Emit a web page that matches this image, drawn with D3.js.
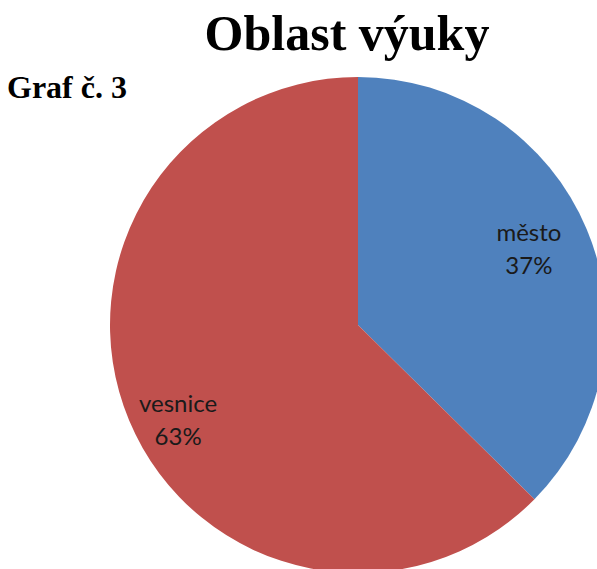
<!DOCTYPE html>
<html>
<head>
<meta charset="utf-8">
<script src="https://cdn.jsdelivr.net/npm/d3@7"></script>
<style>
  body { margin: 0; background: #fff; }
</style>
</head>
<body>
<div id="chart"></div>
<script>
var categories = ["město", "vesnice"]
var values = [37.4, 62.6]
var colors = ["#4F81BD", "#C0504D"]

var draw = function() {
  var width = 597, height = 569;
  var cx = 358, cy = 325, radius = 248;

  var svg = d3.select("#chart").append("svg")
              .attr("width", width)
              .attr("height", height);

  svg.append("text")
     .attr("x", 347)
     .attr("y", 50)
     .attr("text-anchor", "middle")
     .style("font-family", "Liberation Serif, Times New Roman, serif")
     .style("font-weight", "bold")
     .style("font-size", "50px")
     .text("Oblast výuky");

  svg.append("text")
     .attr("x", 7)
     .attr("y", 98)
     .style("font-family", "Liberation Serif, Times New Roman, serif")
     .style("font-weight", "bold")
     .style("font-size", "32px")
     .text("Graf č. 3");

  var data = categories.map(function(c, i) { return {name: c, value: values[i]}; });
  var total = d3.sum(values);

  var pie = d3.pie().sort(null).value(function(d) { return d.value; });
  var arc = d3.arc().innerRadius(0).outerRadius(radius);

  var g = svg.append("g").attr("transform", "translate(" + cx + "," + cy + ")");

  var slices = g.selectAll(".slice")
    .data(pie(data))
    .enter().append("g")
    .attr("class", "slice");

  slices.append("path")
    .attr("d", arc)
    .style("fill", function(d, i) { return colors[i]; });

  // label placement (roughly where excel put them)
  var labelArc = d3.arc().innerRadius(radius * 0.76).outerRadius(radius * 0.76);
  var nudge = [[-3, -11], [-6, 14]];

  var labels = slices.append("text")
    .attr("transform", function(d, i) {
      var c = labelArc.centroid(d);
      return "translate(" + (c[0] + nudge[i][0]) + "," + (c[1] + nudge[i][1]) + ")";
    })
    .attr("text-anchor", "middle")
    .style("font-family", "Lato, Open Sans, sans-serif")
    .style("font-size", "24px")
    .style("fill", "#1a1a1a");

  labels.append("tspan")
    .attr("x", 0)
    .attr("dy", 0)
    .text(function(d) { return d.data.name; });
  labels.append("tspan")
    .attr("x", 0)
    .attr("dy", 33)
    .text(function(d) { return Math.round(d.data.value / total * 100) + "%"; });
};
draw();
</script>
</body>
</html>
